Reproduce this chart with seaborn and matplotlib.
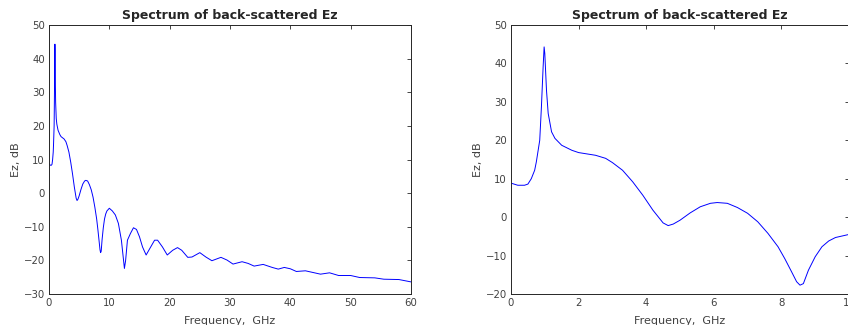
import numpy as np
import pandas as pd
import seaborn as sns
from matplotlib import pyplot as plt

# spectrum (GHz, dB)
freq_ghz = [0.0, 0.2, 0.4, 0.5, 0.6, 0.7, 0.75, 0.85, 0.9, 0.95, 0.98, 1.0, 1.05, 1.1,
            1.2, 1.3, 1.5, 1.8, 2.0, 2.5, 2.8, 3.0, 3.3, 3.6, 3.9, 4.2, 4.5, 4.65,
            4.8, 5.0, 5.3, 5.6, 5.9, 6.1, 6.4, 6.7, 7.0, 7.3, 7.6, 7.9, 8.1, 8.3,
            8.45, 8.55, 8.65, 8.8, 9.0, 9.2, 9.4, 9.6, 9.8, 10.0, 10.5, 11.0, 11.5,
            12.0, 12.5, 12.7, 13.0, 13.5, 14.0, 14.5, 15.0, 15.5, 16.1, 16.7, 17.5,
            18.0, 18.8, 19.6, 20.5, 21.3, 22.0, 23.0, 23.7, 25.0, 26.0, 27.0, 28.5,
            29.5, 30.5, 32.0, 33.0, 34.0, 35.5, 37.0, 38.0, 39.0, 40.0, 41.0, 42.5,
            44.0, 45.0, 46.5, 48.0, 50.0, 51.5, 54.0, 55.5, 58.0, 60.0]
ez_db = [8.85, 8.3, 8.3, 8.6, 10.0, 12.2, 14.4, 20.0, 28.7, 39.0, 44.3, 42.6, 33.0, 27.0,
         22.2, 20.5, 18.7, 17.4, 16.8, 16.1, 15.3, 14.2, 12.2, 9.2, 5.7, 1.8, -1.5, -2.2,
         -1.8, -0.8, 1.1, 2.7, 3.6, 3.8, 3.6, 2.5, 1.0, -1.2, -4.2, -7.7, -10.8, -14.2,
         -16.8, -17.7, -17.3, -13.8, -10.3, -7.7, -6.2, -5.3, -4.9, -4.5, -5.3, -6.5, -9.0,
         -14.0, -22.4, -20.0, -14.0, -12.0, -10.3, -10.8, -13.0, -16.0, -18.4, -16.5, -14.0,
         -14.0, -16.0, -18.4, -17.0, -16.2, -17.0, -19.1, -19.0, -17.7, -19.0, -20.1, -19.1,
         -19.9, -21.1, -20.4, -20.9, -21.7, -21.2, -22.1, -22.6, -22.1, -22.5, -23.3, -23.1,
         -23.7, -24.1, -23.7, -24.5, -24.5, -25.1, -25.2, -25.6, -25.7, -26.4]

df = pd.DataFrame({'f': freq_ghz, 'ez': ez_db})

sns.set_style('white')
plt.rcParams['font.family'] = ['DejaVu Sans']

W, H = 848, 325
fig = plt.figure(figsize=(W / 100, H / 100), dpi=100)
ax1 = fig.add_axes([49 / W, 31 / H, 362 / W, 269 / H])
ax2 = fig.add_axes([511 / W, 31 / H, 338 / W, 269 / H])

panels = [(ax1, (0, 60), np.arange(0, 61, 10), (-30, 50)),
          (ax2, (0, 10), np.arange(0, 11, 2), (-20, 50))]

for ax, xl, xt, yl in panels:
    sns.lineplot(data=df, x='f', y='ez', ax=ax, color='#0000ff', lw=0.7)
    ax.set_xlim(*xl)
    ax.set_ylim(*yl)
    ax.set_xticks(xt)
    ax.set_yticks(np.arange(yl[0], yl[1] + 1, 10))
    ax.tick_params(direction='in', length=3, width=0.6, colors='#262626',
                   labelsize=7.3, labelcolor='#404040', top=True, right=True, pad=3)
    for s in ax.spines.values():
        s.set_color('#262626')
        s.set_linewidth(0.7)
    ax.set_title('Spectrum of back-scattered Ez', fontsize=9, fontweight='bold', pad=4)
    ax.set_xlabel('Frequency,  GHz', fontsize=8, color='#404040', labelpad=6)
    ax.set_ylabel('Ez, dB', fontsize=8, color='#404040', labelpad=2)

fig.savefig('out.png', dpi=100)
